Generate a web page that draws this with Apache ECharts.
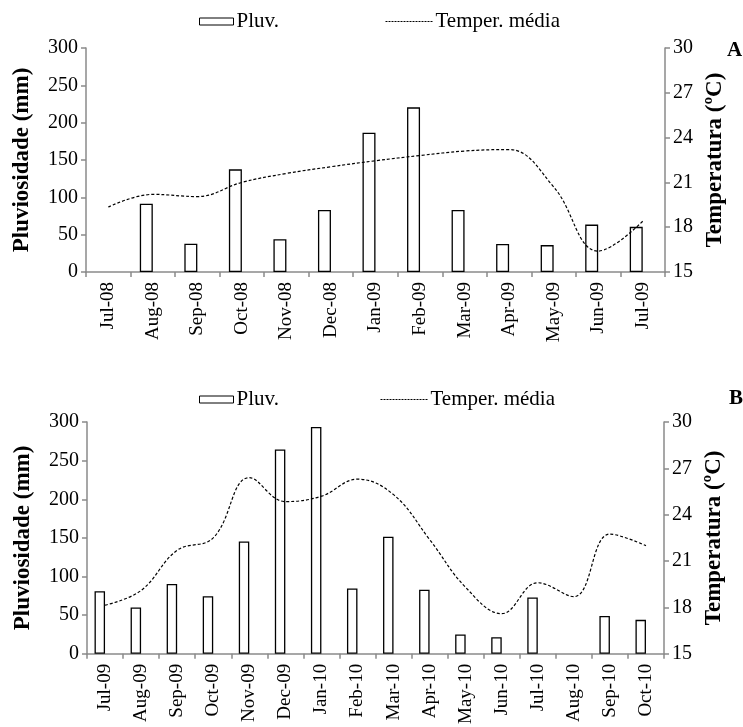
<!DOCTYPE html>
<html>
<head>
<meta charset="utf-8">
<script src="https://cdn.jsdelivr.net/npm/echarts@6/dist/echarts.min.js"></script>
<style>
html,body{margin:0;padding:0;background:#fff;}
#chart{width:743px;height:727px;}
</style>
</head>
<body>
<div id="chart"></div>
<script>
// painel A  (null = sem chuva, nenhuma barra desenhada)
var monthsA = ['Jul-08','Aug-08','Sep-08','Oct-08','Nov-08','Dec-08','Jan-09','Feb-09','Mar-09','Apr-09','May-09','Jun-09','Jul-09'];
var rainA = [null, 91.5, 38, 137.5, 44, 83, 186.5, 220.5, 83, 37.5, 36, 63.5, 60.5];
var tempA = [19.35, 20.2, 20.05, 21.0, 21.6, 22.05, 22.45, 22.8, 23.1, 23.2, 20.7, 16.4, 18.4];

// painel B
var monthsB = ['Jul-09','Aug-09','Sep-09','Oct-09','Nov-09','Dec-09','Jan-10','Feb-10','Mar-10','Apr-10','May-10','Jun-10','Jul-10','Aug-10','Sep-10','Oct-10'];
var rainB = [81, 60, 90.5, 74.5, 145.5, 264.5, 293.5, 84.5, 151.5, 83, 25, 21.5, 73, null, 49, 44];
var tempB = [18.15, 19.1, 21.7, 22.5, 26.4, 24.85, 25.2, 26.3, 25.3, 22.4, 19.3, 17.6, 19.6, 18.7, 22.75, 22.0];

var rainTicks = {min: 0, max: 300, interval: 50};
var tempTicks = {min: 15, max: 30, interval: 3};

var serif = 'Liberation Serif';
var gray = '#8a8a8a';

var byId = function(id){ return document.getElementById(id); };

var leftAxis = function(gi){
  return {
    type: 'value', gridIndex: gi, position: 'left',
    min: rainTicks.min, max: rainTicks.max, interval: rainTicks.interval,
    name: 'Pluviosidade (mm)', nameLocation: 'middle', nameRotate: 90, nameGap: 52,
    nameTextStyle: {fontFamily: serif, fontWeight: 'bold', fontSize: 23, color: '#000'},
    axisLine: {show: true, lineStyle: {color: gray, width: 1.5}},
    axisTick: {show: true, length: 5, lineStyle: {color: gray, width: 1.5}},
    axisLabel: {fontFamily: serif, fontSize: 20, color: '#000', margin: 8},
    splitLine: {show: false}
  };
};
var rightAxis = function(gi){
  return {
    type: 'value', gridIndex: gi, position: 'right',
    min: tempTicks.min, max: tempTicks.max, interval: tempTicks.interval,
    name: 'Temperatura (ºC)', nameLocation: 'middle', nameRotate: 90, nameGap: 38,
    nameTextStyle: {fontFamily: serif, fontWeight: 'bold', fontSize: 23, color: '#000'},
    axisLine: {show: true, lineStyle: {color: gray, width: 1.5}},
    axisTick: {show: true, length: 5, lineStyle: {color: gray, width: 1.5}},
    axisLabel: {fontFamily: serif, fontSize: 20, color: '#000', margin: 8},
    splitLine: {show: false}
  };
};
var catAxis = function(gi, cats){
  return {
    type: 'category', gridIndex: gi, data: cats,
    axisLine: {lineStyle: {color: gray, width: 1.5}},
    axisTick: {show: true, length: 5, interval: 0, lineStyle: {color: gray, width: 1.5}},
    axisLabel: {interval: 0, rotate: 90, fontFamily: serif, fontSize: 19, color: '#000', margin: 10}
  };
};
var barSeries = function(xi, yi, data, w){
  return [{
    name: 'Pluv.', type: 'bar', xAxisIndex: xi, yAxisIndex: yi, data: data,
    barWidth: w, barGap: '0%',
    itemStyle: {color: '#fff', borderColor: '#000', borderWidth: 1.3}
  }, {
    // serie vazia: empurra as barras para a esquerda do centro, como no original
    name: 'gap', type: 'bar', xAxisIndex: xi, yAxisIndex: yi, data: [],
    barWidth: w, barGap: '0%'
  }];
};
var lineSeries = function(xi, yi, data){
  return {
    name: 'Temper. média', type: 'line', xAxisIndex: xi, yAxisIndex: yi, data: data,
    smooth: 0.4, symbol: 'none', z: 5,
    lineStyle: {color: '#000', width: 1.2, type: [3, 2]},
    itemStyle: {color: '#000'}
  };
};
var legendPair = function(top, x1, x2){
  return [{
    data: ['Pluv.'], left: x1, top: top, icon: 'rect', itemWidth: 34, itemHeight: 7, itemGap: 0,
    itemStyle: {color: '#fff', borderColor: '#000', borderWidth: 1},
    textStyle: {fontFamily: serif, fontSize: 21, color: '#000', padding: [0, 0, 0, -2]}
  }, {
    data: ['Temper. média'], left: x2, top: top, itemWidth: 47, itemHeight: 7, itemGap: 0,
    itemStyle: {opacity: 0},
    lineStyle: {color: '#000', width: 1, type: [2, 1], opacity: 1},
    textStyle: {fontFamily: serif, fontSize: 21, color: '#000', padding: [0, 0, 0, -2]}
  }];
};

var chart = echarts.init(byId('chart'));
chart.setOption({
  animation: false,
  legend: legendPair(6, 194, 380).concat(legendPair(384, 194, 375)),
  grid: [
    {left: 86, right: 78, top: 48, height: 224},
    {left: 87, right: 79, top: 422, height: 232}
  ],
  xAxis: [catAxis(0, monthsA), catAxis(1, monthsB)],
  yAxis: [leftAxis(0), rightAxis(0), leftAxis(1), rightAxis(1)],
  graphic: [
    {type: 'text', left: 727, top: 40, style: {text: 'A', fontFamily: serif, fontWeight: 'bold', fontSize: 21, fill: '#000'}},
    {type: 'text', left: 729, top: 388, style: {text: 'B', fontFamily: serif, fontWeight: 'bold', fontSize: 21, fill: '#000'}}
  ],
  series: barSeries(0, 0, rainA, 13)
    .concat([lineSeries(0, 1, tempA)])
    .concat(barSeries(1, 2, rainB, 10.5))
    .concat([lineSeries(1, 3, tempB)])
});
</script>
</body>
</html>
